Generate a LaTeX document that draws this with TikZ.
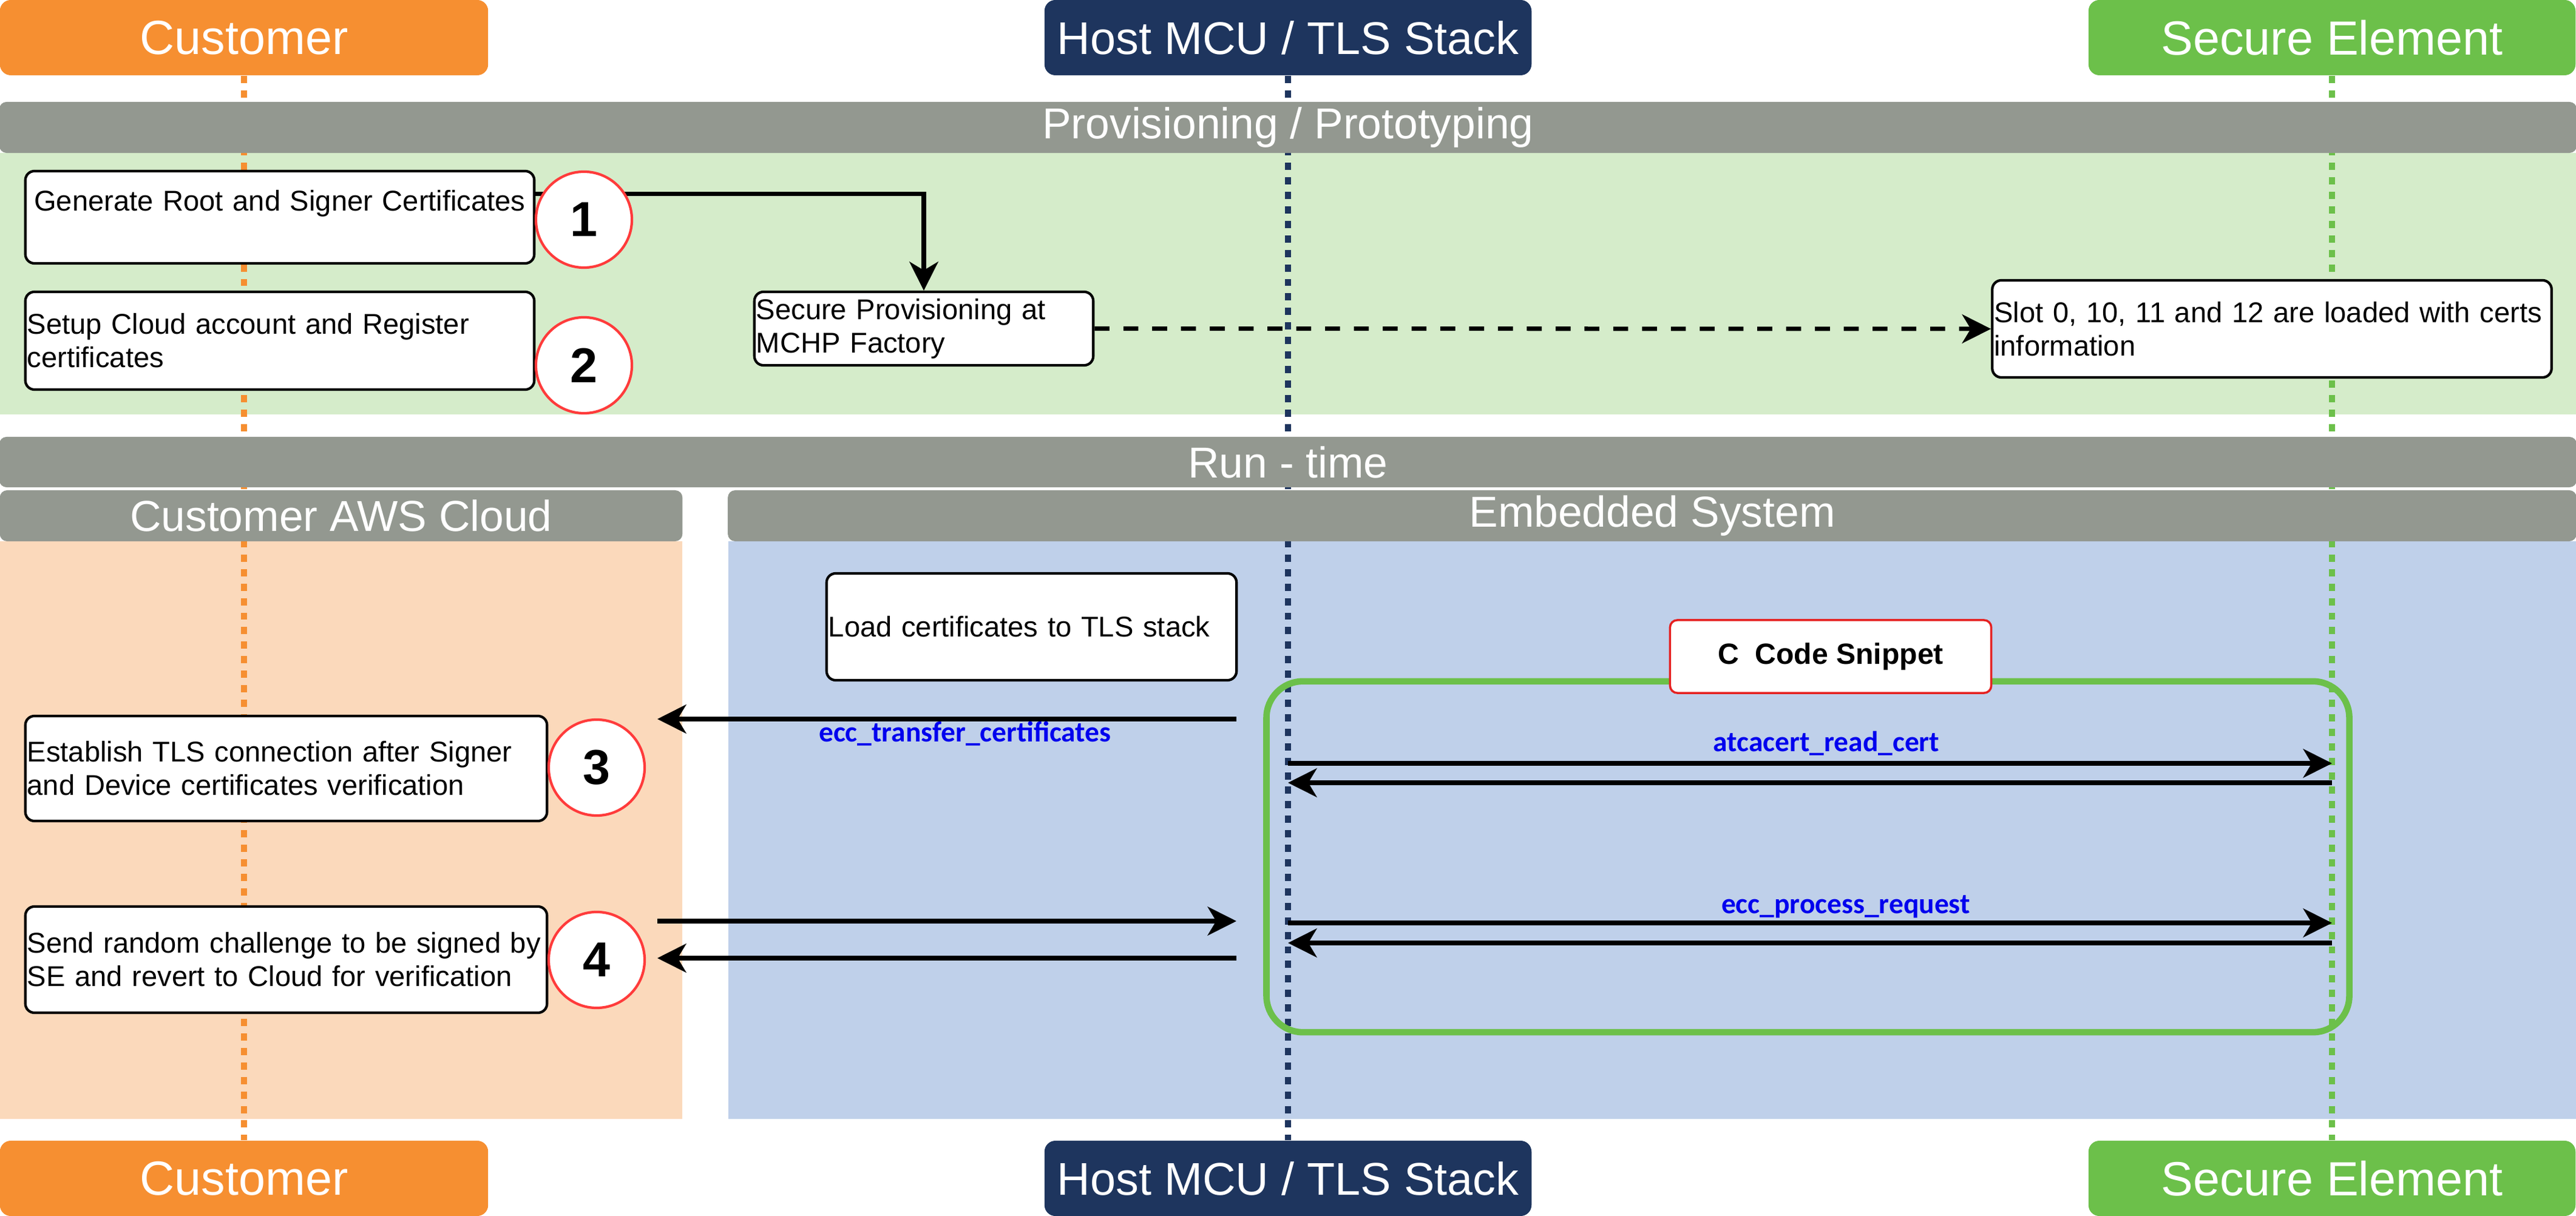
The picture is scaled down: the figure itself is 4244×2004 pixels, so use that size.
\documentclass[tikz,border=0pt]{standalone}
\usepackage{fontspec}
\setmainfont{Liberation Sans}
\newfontfamily\lblfont{Carlito}
\usetikzlibrary{arrows.meta}
\definecolor{cusorange}{HTML}{F68F31}
\definecolor{hostnavy}{HTML}{1E355E}
\definecolor{segreen}{HTML}{6CC04A}
\definecolor{bargray}{HTML}{939890}
\definecolor{provgreen}{HTML}{D5ECCA}
\definecolor{cloudorange}{HTML}{FBD9BB}
\definecolor{embblue}{HTML}{BFD0EA}
\definecolor{numred}{HTML}{FF3B3B}
\definecolor{snipred}{HTML}{E52222}
\definecolor{fnblue}{HTML}{0000EE}
\tikzset{
  actor/.style={rounded corners=0.18cm, text=white, inner xsep=0pt, minimum width=8.02cm, minimum height=1.24cm, font=\fontsize{22.5}{26}\selectfont},
  band/.style={fill=bargray, rounded corners=0.12cm, text=white, inner sep=0pt, minimum height=0.84cm, font=\fontsize{20.3}{24}\selectfont},
  note/.style={draw, line width=1.2pt, fill=white, rounded corners=0.15cm, inner xsep=0.03cm, inner ysep=0.05cm, align=left, font=\fontsize{13.4}{15.6}\selectfont},
  num/.style={circle, draw=numred, line width=1.2pt, fill=white, minimum size=1.58cm, inner sep=0pt, font=\fontsize{23}{26}\selectfont\bfseries},
  life/.style={line width=3pt, dash pattern=on 3.4pt off 3.4pt},
  msg/.style={line width=2pt, -{Stealth[length=13.5pt, width=13.5pt, inset=4pt]}},
  fn/.style={text=fnblue, anchor=base, font=\lblfont\fontsize{13.5}{16}\selectfont\bfseries}
}
\begin{document}
\begin{tikzpicture}[x=0.01cm, y=-0.01cm]
\useasboundingbox (0,0) rectangle (4244,2004);
\fill[white] (0,0) rectangle (4244,2004);
\fill[provgreen] (0,252) rectangle (4244,683);
\fill[cloudorange] (0,892) rectangle (1124,1844);
\fill[embblue] (1200,892) rectangle (4244,1844);

\node[actor, fill=cusorange, minimum width=8.04cm] (cusT) at (402,62) {Customer};
\node[actor, fill=hostnavy, font=\fontsize{21.5}{26}\selectfont] (hostT) at (2122,62) {Host MCU / TLS Stack};
\node[actor, fill=segreen] (seT) at (3842,62) {Secure Element};
\node[actor, fill=cusorange, minimum width=8.04cm] (cusB) at (402,1942) {Customer};
\node[actor, fill=hostnavy, font=\fontsize{21.5}{26}\selectfont] (hostB) at (2122,1942) {Host MCU / TLS Stack};
\node[actor, fill=segreen] (seB) at (3842,1942) {Secure Element};

\draw[life, cusorange] (cusT) -- (cusB);
\draw[life, hostnavy] (hostT) -- (hostB);
\draw[life, segreen] (seT) -- (seB);

\node[band, minimum width=42.44cm] (provBar) at (2122,210) {Provisioning / Prototyping};
\node[band, minimum width=42.44cm, minimum height=0.83cm] (runBar) at (2122,761.5) {Run - time};
\node[band, minimum width=11.24cm] (cloudBar) at (562,850) {Customer AWS Cloud};
\node[band, minimum width=30.44cm] (embBar) at (2722,850) {Embedded System};

\node[draw=segreen, line width=3pt, rounded corners=0.6cm, minimum width=17.83cm, minimum height=5.78cm] (snip) at (2978.5,1412) {};
\node[draw=snipred, line width=1pt, fill=white, rounded corners=0.12cm, minimum width=5.29cm, minimum height=1.2cm, font=\fontsize{13.7}{16}\selectfont\bfseries] (snipLbl) at (3016,1082) {C~~Code Snippet};

\node[note, text width=8.32cm, align=center, minimum height=1.52cm] (gen) at (461,358) {Generate Root and Signer Certificates\\\mbox{}};
\node[note, text width=8.32cm, minimum height=1.61cm] (setup) at (461,561.5) {Setup Cloud account and Register\\certificates};
\node[note, text width=5.52cm, minimum height=1.21cm] (prov) at (1522,541.5) {Secure Provisioning at\\MCHP Factory};
\node[note, text width=9.15cm, minimum height=1.6cm] (slot) at (3743,542) {\mbox{Slot 0, 10, 11 and 12 are loaded with certs}\\information};
\node[note, text width=6.69cm, minimum height=1.76cm] (load) at (1699.5,1033) {Load certificates to TLS stack};
\node[note, text width=8.53cm, minimum height=1.73cm] (est) at (471.5,1266.5) {Establish TLS connection after Signer\\and Device certificates verification};
\node[note, text width=8.53cm, minimum height=1.75cm] (send) at (471.5,1581.5) {\mbox{Send random challenge to be signed by}\\SE and revert to Cloud for verification};

\coordinate (xfA) at (2037,1185);
\coordinate (xfB) at (1083,1185);
\coordinate (chA) at (1083,1518);
\coordinate (chB) at (2037,1518);
\coordinate (chC) at (2037,1579);
\coordinate (chD) at (1083,1579);
\coordinate (rdA) at (2122,1258);
\coordinate (rdB) at (3842,1258);
\coordinate (rdC) at (3842,1290);
\coordinate (rdD) at (2122,1290);
\coordinate (prA) at (2122,1521);
\coordinate (prB) at (3842,1521);
\coordinate (prC) at (3842,1554);
\coordinate (prD) at (2122,1554);

\draw[msg] ([yshift=0.38cm]gen.east) -| (prov.north);
\draw[msg, dash pattern=on 7pt off 6.5pt] (prov.east) -- (slot.west);
\draw[msg] (xfA) -- (xfB);
\draw[msg] (chA) -- (chB);
\draw[msg] (chC) -- (chD);
\draw[msg] (rdA) -- (rdB);
\draw[msg] (rdC) -- (rdD);
\draw[msg] (prA) -- (prB);
\draw[msg] (prC) -- (prD);

\node[num] (n1) at (962,362) {1};
\node[num] (n2) at (962,602) {2};
\node[num] (n3) at (983,1265) {3};
\node[num] (n4) at (983,1582) {4};

\node[fn] (xfLbl) at (1590,1223) {ecc\_transfer\_certificates};
\node[fn] (rdLbl) at (3009,1239) {atcacert\_read\_cert};
\node[fn] (prLbl) at (3041,1505) {ecc\_process\_request};
\end{tikzpicture}
\end{document}
